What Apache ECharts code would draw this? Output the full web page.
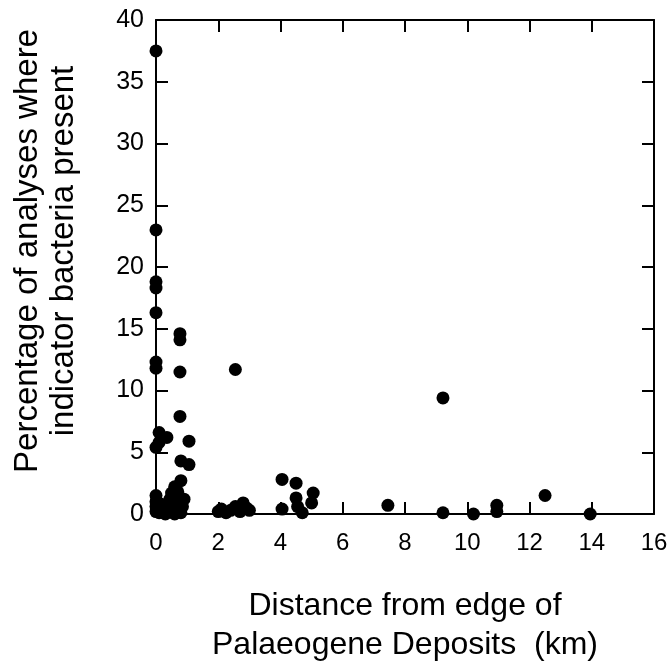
<!DOCTYPE html>
<html>
<head>
<meta charset="utf-8">
<script src="https://cdn.jsdelivr.net/npm/echarts@6/dist/echarts.min.js"></script>
<style>html,body{margin:0;padding:0;background:#fff;}#c{width:671px;height:668px;}</style>
</head>
<body>
<div id="c"></div>
<script>
// Distance from edge of Palaeogene Deposits (km)
const distanceKm = [
  0, 0, 0, 0, 0, 0, 0,
  0.77, 0.77, 0.77, 0.77,
  0.1, 0.35, 0, 0.1, 1.06,
  0.8, 1.06, 0.8, 0.6,
  0, 0, 0, 0, 0.1, 0.15, 0.2, 0.3, 0.35, 0.45, 0.5, 0.55, 0.6, 0.65, 0.7, 0.75, 0.8, 0.85, 0.5, 0.7, 0.9,
  2.55,
  2.0, 2.1, 2.25, 2.4, 2.55, 2.7, 2.8, 2.9, 3.0,
  4.05, 4.5, 5.05, 5.0, 4.5, 4.55, 4.7, 4.05,
  7.45,
  9.22, 9.22,
  10.2,
  10.95, 10.95,
  12.5,
  13.95
];
// Percentage of analyses where indicator bacteria present
const percentPresent = [
  37.5, 23.0, 18.8, 18.3, 16.3, 12.3, 11.8,
  14.6, 14.1, 11.5, 7.9,
  6.6, 6.2, 5.4, 5.8, 5.9,
  4.3, 4.0, 2.7, 2.2,
  0.2, 0.6, 1.0, 1.5, 0.1, 0.8, 0.3, 0.0, 0.5, 1.2, 0.2, 0.7, 0.0, 1.4, 0.4, 1.0, 0.1, 0.6, 1.7, 1.8, 1.2,
  11.7,
  0.2, 0.4, 0.1, 0.3, 0.6, 0.2, 0.9, 0.5, 0.3,
  2.8, 2.5, 1.7, 0.9, 1.3, 0.6, 0.1, 0.4,
  0.7,
  9.4, 0.1,
  0.0,
  0.7, 0.2,
  1.5,
  0.0
];
const xTicks = [0, 2, 4, 6, 8, 10, 12, 14, 16];
const yTicks = [0, 5, 10, 15, 20, 25, 30, 35, 40];

const points = distanceKm.map((d, i) => [d, percentPresent[i]]);
const font = '"Liberation Sans", Arial, Helvetica, sans-serif';
const mkLine = () => ({ show: true, onZero: false, lineStyle: { color: '#000', width: 2 } });
const mkTick = () => ({ show: true, inside: true, length: 12, lineStyle: { color: '#000', width: 2 } });

const chart = echarts.init(document.getElementById('c'));
chart.setOption({
  animation: false,
  backgroundColor: '#fff',
  grid: { left: 156, right: 17, top: 20, bottom: 154, outerBoundsMode: 'none', containLabel: false },
  xAxis: [{
    type: 'value', min: xTicks[0], max: xTicks[xTicks.length - 1], interval: 2,
    position: 'bottom',
    axisLine: mkLine(), axisTick: mkTick(), splitLine: { show: false },
    axisLabel: { color: '#000', fontSize: 24, fontFamily: font, margin: 17 },
    name: 'Distance from edge of\nPalaeogene Deposits  (km)',
    nameLocation: 'middle', nameGap: 73,
    nameTextStyle: { color: '#000', fontSize: 32, fontFamily: font, lineHeight: 39 }
  }, {
    type: 'value', min: xTicks[0], max: xTicks[xTicks.length - 1], interval: 2,
    position: 'top',
    axisLine: mkLine(), axisTick: mkTick(), axisLabel: { show: false }, splitLine: { show: false }
  }],
  yAxis: [{
    type: 'value', min: yTicks[0], max: yTicks[yTicks.length - 1], interval: 5,
    position: 'left',
    axisLine: mkLine(), axisTick: mkTick(), splitLine: { show: false },
    axisLabel: { color: '#000', fontSize: 25, fontFamily: font, margin: 12 },
    name: 'Percentage of analyses where\nindicator bacteria present',
    nameLocation: 'middle', nameGap: 74,
    nameTextStyle: { color: '#000', fontSize: 33, fontFamily: font, lineHeight: 36, padding: [0, 0, 0, 32] }
  }, {
    type: 'value', min: yTicks[0], max: yTicks[yTicks.length - 1], interval: 5,
    position: 'right',
    axisLine: mkLine(), axisTick: mkTick(), axisLabel: { show: false }, splitLine: { show: false }
  }],
  series: [{
    type: 'scatter',
    xAxisIndex: 0, yAxisIndex: 0,
    data: points,
    symbol: 'circle',
    symbolSize: 13,
    itemStyle: { color: '#000', opacity: 1 },
    clip: false,
    z: 5
  }, {
    type: 'scatter',
    xAxisIndex: 1, yAxisIndex: 1,
    data: [],
    silent: true
  }]
});
</script>
</body>
</html>
